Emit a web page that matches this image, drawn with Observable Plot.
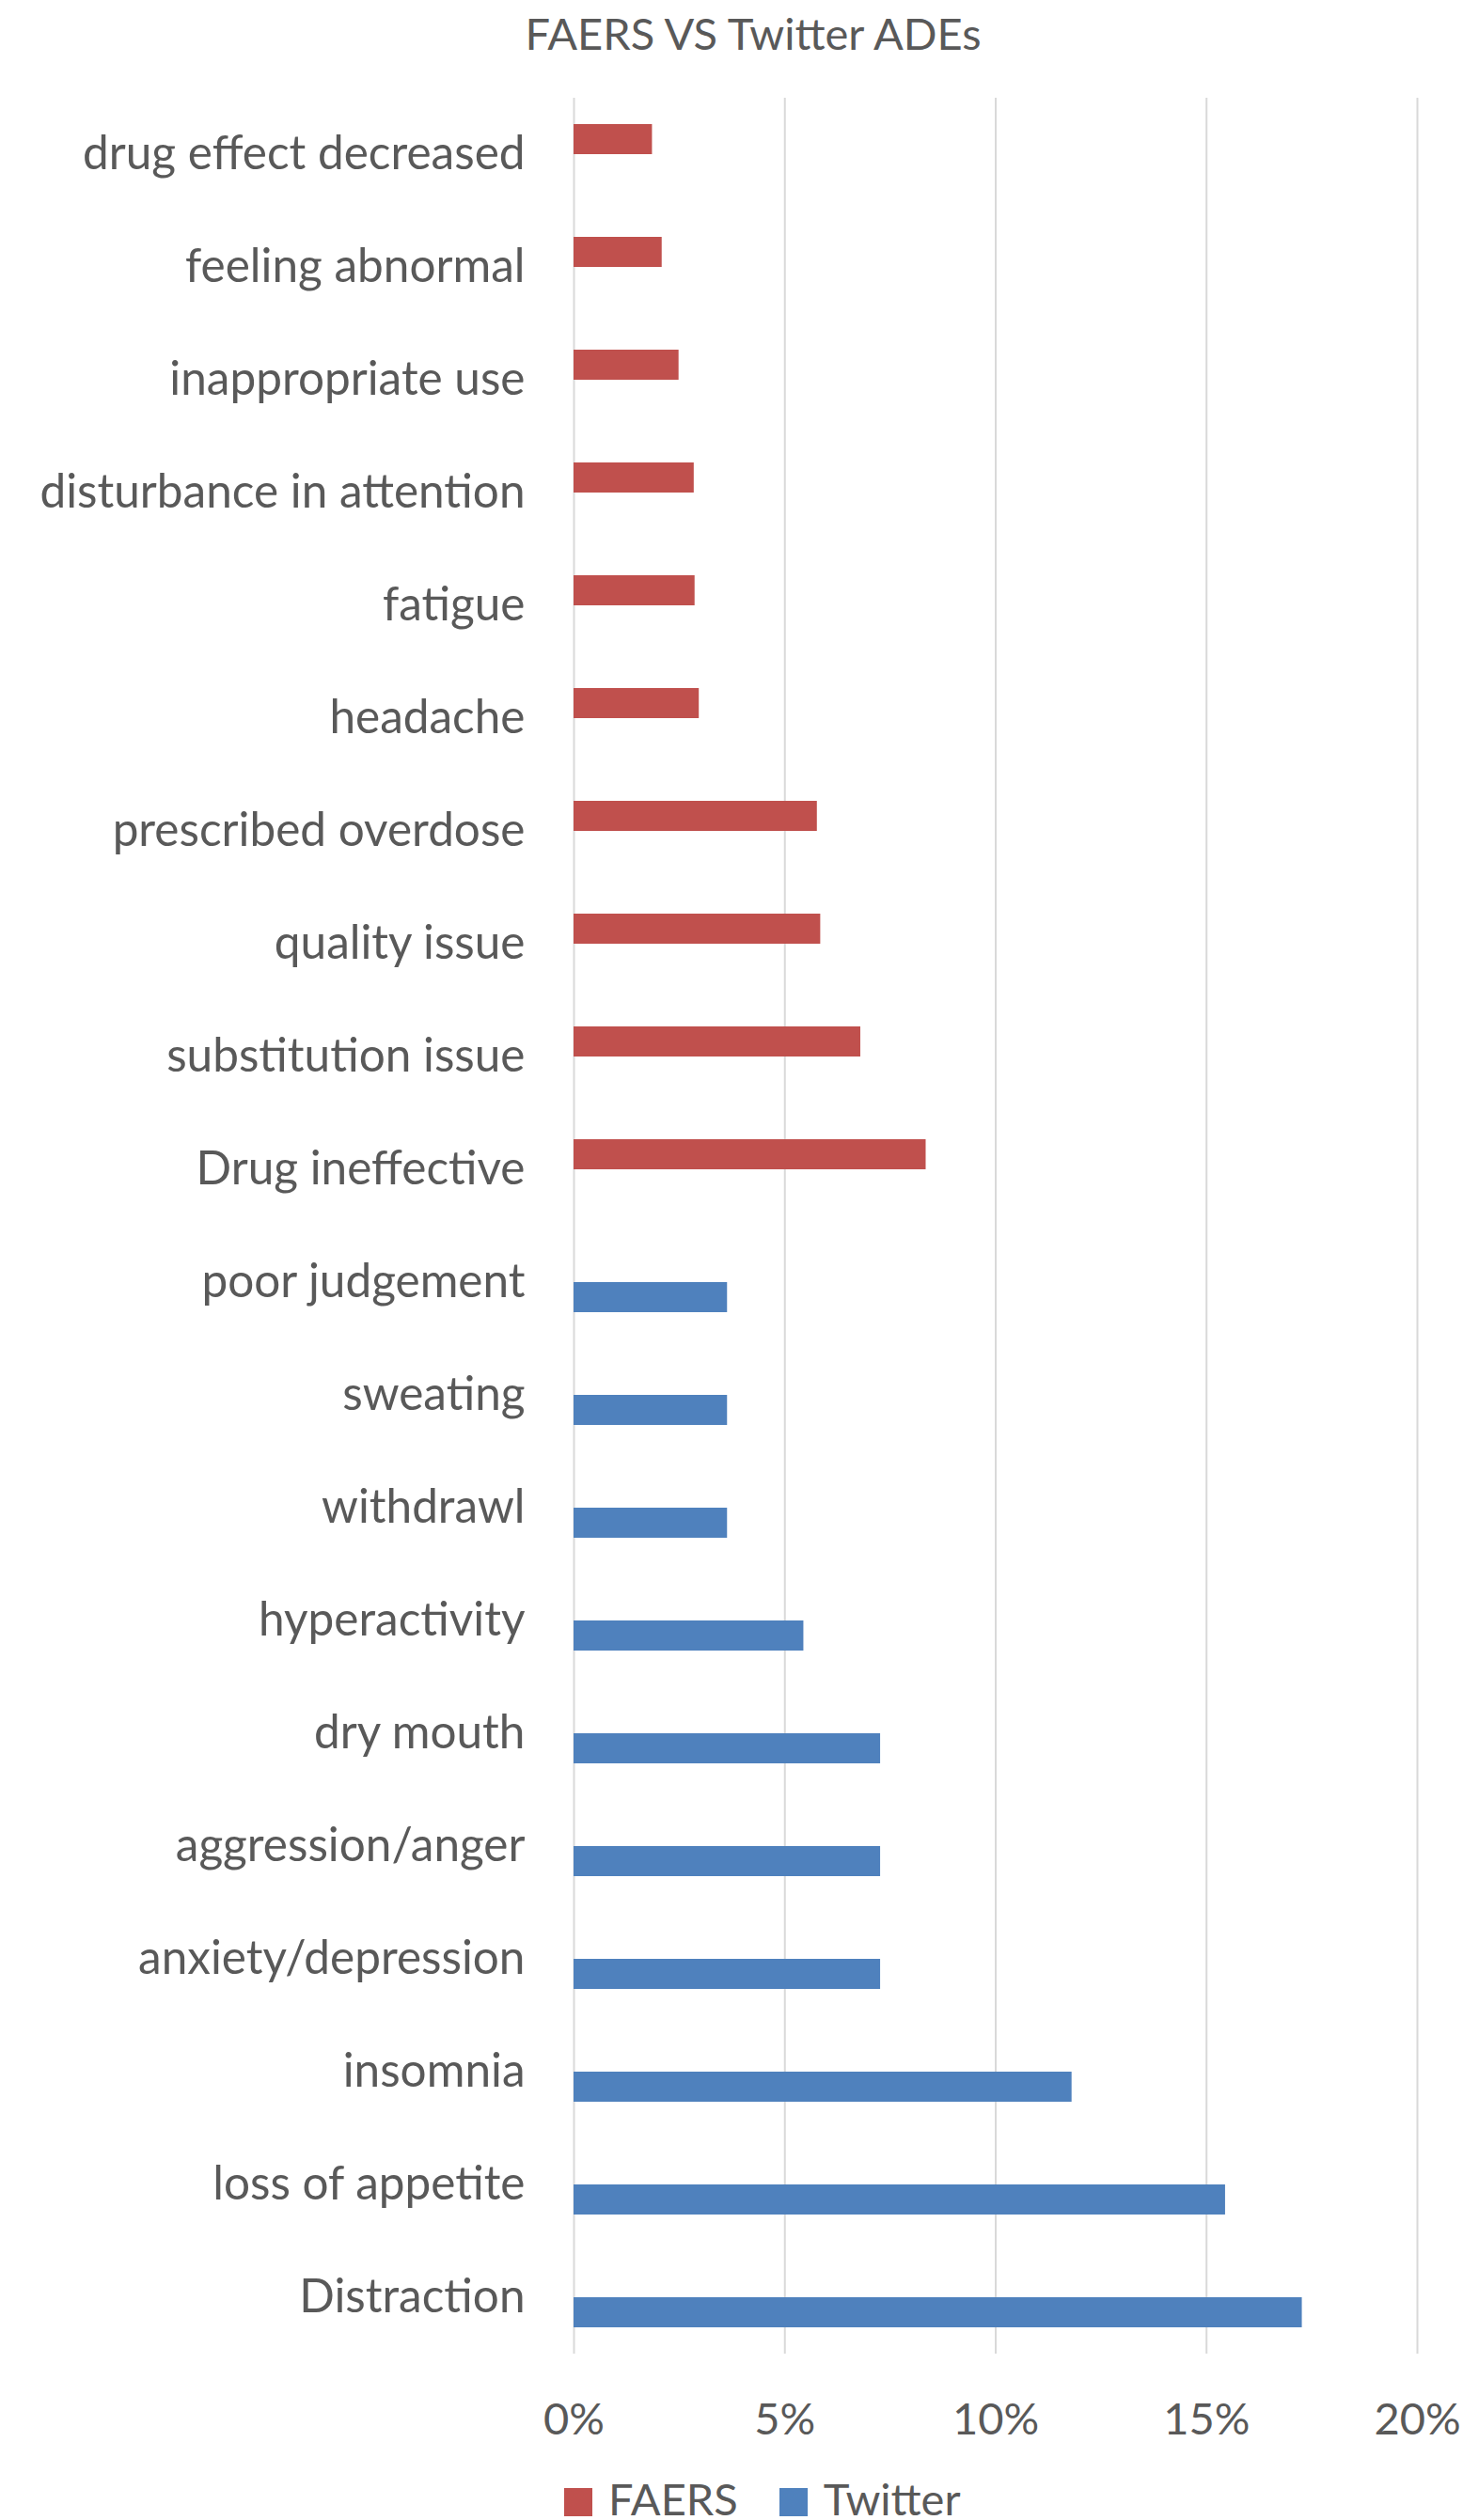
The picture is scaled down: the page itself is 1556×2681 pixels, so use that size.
<!DOCTYPE html>
<html>
<head>
<meta charset="utf-8">
<script src="https://cdn.jsdelivr.net/npm/d3@7"></script>
<script src="https://cdn.jsdelivr.net/npm/@observablehq/plot@0.6"></script>
<style>
  html, body { margin: 0; padding: 0; background: #fff; overflow: hidden; }
  body { width: 1556px; font-family: Lato, "Open Sans", sans-serif; color: #595959; }
  #title { width: 1556px; height: 80px; box-sizing: border-box; padding-top: 7px; padding-left: 46px;
           text-align: center; font-size: 47px; line-height: normal; white-space: nowrap; }
  #chart svg { display: block; }
  #chart [aria-label^="fy-axis"] text { font-size: 49.5px; }
  #legend { height: 76px; box-sizing: border-box; padding-top: 25px; padding-left: 600px;
            font-size: 47px; line-height: normal; white-space: nowrap; }
  .item { display: inline-block; margin-right: 44px; }
  .sw { display: inline-block; width: 30px; height: 30px; margin-right: 17px; vertical-align: -1px; }
</style>
</head>
<body>
<div id="title">FAERS VS Twitter ADEs</div>
<div id="chart"></div>
<div id="legend"></div>
<script>
const seriesNames = ["FAERS", "Twitter"];
const seriesColors = ["#C0504D", "#4F81BD"];

const faersCategories = [
  "drug effect decreased", "feeling abnormal", "inappropriate use",
  "disturbance in attention", "fatigue", "headache", "prescribed overdose",
  "quality issue", "substitution issue", "Drug ineffective"
];
const faersValues = [1.86, 2.09, 2.49, 2.85, 2.87, 2.97, 5.77, 5.85, 6.80, 8.35];

const twitterCategories = [
  "poor judgement", "sweating", "withdrawl", "hyperactivity", "dry mouth",
  "aggression/anger", "anxiety/depression", "insomnia", "loss of appetite", "Distraction"
];
const twitterValues = [3.64, 3.64, 3.64, 5.45, 7.27, 7.27, 7.27, 11.81, 15.45, 17.27];

const xTicks = [0, 5, 10, 15, 20];

const categories = [...faersCategories, ...twitterCategories];
const rows = [
  ...faersCategories.map((c, i) => ({category: c, series: "FAERS", value: faersValues[i]})),
  ...twitterCategories.map((c, i) => ({category: c, series: "Twitter", value: twitterValues[i]}))
];

const chart = Plot.plot({
  width: 1556,
  height: 2525,
  marginLeft: 610,
  marginRight: 49,
  marginTop: 22,
  marginBottom: 100,
  style: {fontFamily: "Lato, 'Open Sans', sans-serif", fontSize: "47px", color: "#595959", background: "white", overflow: "visible"},
  x: {domain: [0, 20], ticks: xTicks, tickFormat: d => d + "%", tickSize: 0, tickPadding: 52, label: null},
  y: {domain: seriesNames, axis: null, paddingInner: 0, paddingOuter: 0.875},
  fy: {domain: categories, axis: "left", label: null, tickSize: 0, tickPadding: 52, paddingInner: 0, paddingOuter: 0},
  color: {domain: seriesNames, range: seriesColors},
  facet: {data: rows, y: "category"},
  marks: [
    Plot.ruleX(xTicks, {stroke: "#d9d9d9", strokeWidth: 2, strokeOpacity: 1}),
    Plot.barX(rows, {x: "value", y: "series", fill: "series"})
  ]
});
document.getElementById("chart").appendChild(chart);

const legend = document.getElementById("legend");
seriesNames.forEach((s, i) => {
  const item = document.createElement("span");
  item.className = "item";
  const sw = document.createElement("span");
  sw.className = "sw";
  sw.style.background = seriesColors[i];
  item.appendChild(sw);
  item.appendChild(document.createTextNode(s));
  legend.appendChild(item);
});
</script>
</body>
</html>
